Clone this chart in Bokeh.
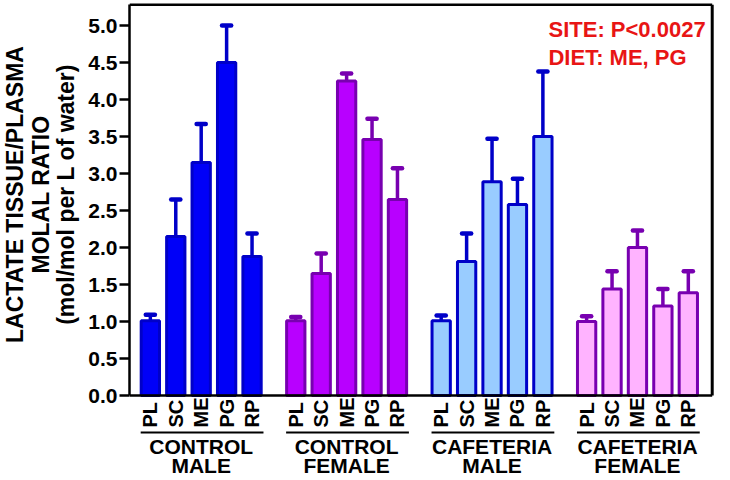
import numpy as np
from bokeh.plotting import figure
from bokeh.layouts import row
from bokeh.models import Range1d, FixedTicker, NumeralTickFormatter, ColumnDataSource
from bokeh.embed import file_html
from bokeh.resources import INLINE
from bokeh.core.properties import value

# ---------------- data ----------------
groups = ["CONTROL\nMALE", "CONTROL\nFEMALE", "CAFETERIA\nMALE", "CAFETERIA\nFEMALE"]
sites = ["PL", "SC", "ME", "PG", "RP"]

control_male = [1.01, 2.15, 3.15, 4.50, 1.88]
control_male_sem = [0.08, 0.50, 0.52, 0.50, 0.31]
control_female = [1.01, 1.65, 4.25, 3.46, 2.65]
control_female_sem = [0.05, 0.27, 0.10, 0.28, 0.42]
cafeteria_male = [1.01, 1.81, 2.89, 2.58, 3.50]
cafeteria_male_sem = [0.07, 0.38, 0.58, 0.35, 0.88]
cafeteria_female = [1.00, 1.44, 2.00, 1.21, 1.39]
cafeteria_female_sem = [0.07, 0.24, 0.23, 0.23, 0.29]

yticks = [0.0, 0.5, 1.0, 1.5, 2.0, 2.5, 3.0, 3.5, 4.0, 4.5, 5.0]
annotation_lines = ["SITE: P<0.0027", "DIET: ME, PG"]
y_title = ["LACTATE TISSUE/PLASMA", "MOLAL RATIO", "(mol/mol per L of water)"]

# ---------------- styling ----------------
fills = ["#0000f8", "#b800ff", "#99ccff", "#ffb3ff"]
lines = ["#0000c8", "#7800b0", "#0000c8", "#7800b0"]
FONT = value("Liberation Sans")
GROUP_STEP = 5.72
X0, X1 = -0.82, 22.19
YTOP = 5.28
YPX = 74.0
H = 478
ZERO_PX = 395
TW = 84  # width of title strip

values = [control_male, control_female, cafeteria_male, cafeteria_female]
sems = [control_male_sem, control_female_sem, cafeteria_male_sem, cafeteria_female_sem]

xs, tops, errs, fc, lc, labs = [], [], [], [], [], []
for gi, (vals, ss) in enumerate(zip(values, sems)):
    for si, (v, s) in enumerate(zip(vals, ss)):
        xs.append(gi * GROUP_STEP + si)
        tops.append(v)
        errs.append(v + s)
        fc.append(fills[gi])
        lc.append(lines[gi])
        labs.append(sites[si])

src = ColumnDataSource(dict(x=xs, top=tops, err=errs, fc=fc, lc=lc, lab=labs,
                            cl=[x - 0.18 for x in xs], cr=[x + 0.18 for x in xs]))

# ---------------- title strip ----------------
t = figure(width=TW, height=H, output_backend="svg", toolbar_location=None,
           x_range=Range1d(0, TW), y_range=Range1d(0, H),
           x_axis_location=None, y_axis_location=None,
           min_border_left=0, min_border_right=0, min_border_top=0, min_border_bottom=0)
t.outline_line_color = None
t.xgrid.visible = False
t.ygrid.visible = False
t.text(x=[14, 40, 65], y=[H - 194] * 3, text=y_title, angle=np.pi / 2,
       text_align="center", text_baseline="middle", text_font=FONT,
       text_font_style="bold", text_font_size="23px", text_color="black")

# ---------------- main plot ----------------
p = figure(width=714 - TW, height=H, output_backend="svg", toolbar_location=None,
           x_range=Range1d(X0, X1),
           y_range=Range1d(-(H - ZERO_PX) / YPX, ZERO_PX / YPX),
           x_axis_location=None, min_border_left=129 - TW, min_border_right=0,
           min_border_top=0, min_border_bottom=0)
p.outline_line_color = None
p.xgrid.visible = False
p.ygrid.visible = False

ax = p.yaxis[0]
ax.bounds = (0, YTOP)
ax.ticker = FixedTicker(ticks=yticks)
ax.formatter = NumeralTickFormatter(format="0.0")
ax.axis_line_width = 2.5
ax.axis_line_color = "black"
ax.major_tick_line_width = 2.5
ax.major_tick_out = 10
ax.major_tick_in = 0
ax.minor_tick_line_color = None
ax.major_label_standoff = 2
ax.major_label_text_font = "Liberation Sans"
ax.major_label_text_font_style = "bold"
ax.major_label_text_font_size = "21px"
ax.major_label_text_color = "black"

# error bars
p.segment(x0="x", y0="top", x1="x", y1="err", line_color="lc", line_width=3.5, source=src)
p.segment(x0="cl", y0="err", x1="cr", y1="err", line_color="lc", line_width=4.5,
          line_cap="round", source=src)
# bars
p.vbar(x="x", top="top", bottom=0, width=0.72, fill_color="fc", line_color="lc",
       line_width=3, source=src)

# frame lines
XR = 22.10
p.segment(x0=[X0, X0, XR], y0=[0, YTOP, 0], x1=[XR, XR, XR], y1=[0, YTOP, YTOP],
          line_color="black", line_width=[2.5, 2.5, 3])

# annotation
p.text(x=[15.66, 15.66], y=[4.95, 4.57], text=annotation_lines, text_align="left",
       text_baseline="middle", text_font=FONT, text_font_style="bold",
       text_font_size="22px", text_color="#e81515")

# site labels
p.text(x="x", y=-0.432, text="lab", angle=np.pi / 2, text_align="left",
       text_baseline="middle", text_font=FONT, text_font_style="bold",
       text_font_size="20px", text_color="black", source=src)

# group underlines and labels
gx = [gi * GROUP_STEP for gi in range(len(groups))]
p.segment(x0=[g - 0.38 for g in gx], y0=-0.5, x1=[g + 4.45 for g in gx], y1=-0.5,
          line_color="black", line_width=2)
p.text(x=[g + 2 for g in gx], y=-0.689, text=[g.split("\n")[0] for g in groups],
       text_align="center", text_baseline="middle", text_font=FONT,
       text_font_style="bold", text_font_size="21px", text_color="black")
p.text(x=[g + 2 for g in gx], y=-0.946, text=[g.split("\n")[1] for g in groups],
       text_align="center", text_baseline="middle", text_font=FONT,
       text_font_style="bold", text_font_size="21px", text_color="black")

layout = row(t, p, spacing=0)
open("out.html", "w").write(file_html(layout, INLINE))
